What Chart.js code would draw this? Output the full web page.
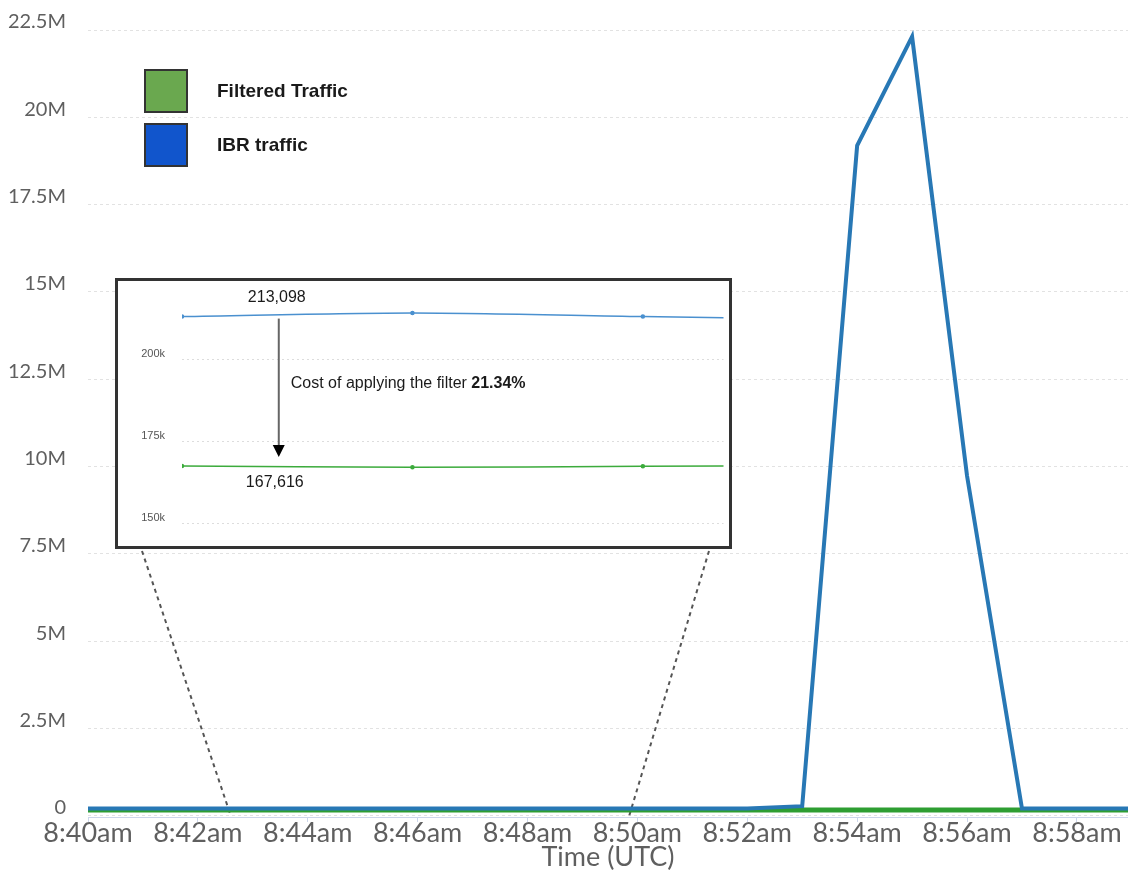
<!DOCTYPE html>
<html lang="en">
<head>
    <meta charset="UTF-8">
    <title>IBR traffic vs filtered traffic</title>
    <style>
        body {
            margin: 0;
            background-color: #ffffff;
        }

        #wrap {
            position: relative;
            width: 1128px;
            height: 873px;
        }

        #mainChart {
            position: absolute;
            left: 0;
            top: 0;
        }

        .legend {
            position: absolute;
            left: 144px;
            top: 69px;
            font-family: "Liberation Sans", Arial, sans-serif;
            font-weight: bold;
            font-size: 19px;
            color: #1a1a1a;
        }

        .legend-row {
            display: flex;
            align-items: center;
            height: 44px;
            margin-bottom: 10px;
        }

        .legend-box {
            width: 40px;
            height: 40px;
            border: 2px solid #333;
            margin-right: 29px;
        }

        #inset {
            position: absolute;
            left: 115px;
            top: 278px;
            width: 611px;
            height: 265px;
            border: 3px solid #333;
            background-color: #ffffff;
        }
    </style>
</head>
<body>
    <div id="wrap">
        <canvas id="mainChart" width="1128" height="873"></canvas>

        <div class="legend">
            <div class="legend-row"><div class="legend-box" style="background:#6aa84f"></div>Filtered Traffic</div>
            <div class="legend-row"><div class="legend-box" style="background:#1155cc"></div>IBR traffic</div>
        </div>

        <div id="inset"><canvas id="insetChart" width="611" height="265"></canvas></div>
    </div>

    <script src="https://cdn.jsdelivr.net/npm/chart.js"></script>
    <script>
        // main chart: one point per minute, 8:40am .. 8:59am
        const times = ['8:40am', '8:41am', '8:42am', '8:43am', '8:44am', '8:45am', '8:46am', '8:47am', '8:48am', '8:49am',
                       '8:50am', '8:51am', '8:52am', '8:53am', '8:54am', '8:55am', '8:56am', '8:57am', '8:58am', '8:59am'];
        const ibrTraffic = [213098, 213400, 213200, 213900, 214100, 213600, 214200, 213800, 213100, 213300,
                            213500, 213000, 213200, 280000, 19190000, 22310000, 9740000, 213000, 213200, 213100];
        const filteredTraffic = [167616, 167500, 167700, 167400, 167200, 167300, 167200, 167500, 167600, 167400,
                                 167500, 167700, 167600, 167600, 167500, 167700, 167600, 167500, 167600, 167700];
        const xTickMinutes = [0, 2, 4, 6, 8, 10, 12, 14, 16, 18];
        const yTickValues = [0, 2500000, 5000000, 7500000, 10000000, 12500000, 15000000, 17500000, 20000000, 22500000];

        // zoomed window shown in the inset (minutes after 8:40)
        const zoomFrom = 2.6;
        const zoomTo = 9.85;

        // inset chart
        const insetIbr = [213098, 214200, 213100, 212000];
        const insetFiltered = [167616, 167200, 167500, 167800];
        const insetTickValues = [150000, 175000, 200000];
        const costLabel = 'Cost of applying the filter ';
        const costValue = '21.34%';

        const fmtM = v => v === 0 ? '0' : (v / 1000000) + 'M';

        const connectors = {
            id: 'connectors',
            beforeDatasetsDraw(chart) {
                const box = document.getElementById('inset');
                const ctx = chart.ctx;
                const x = chart.scales.x;
                const y0 = chart.scales.y.getPixelForValue(0);
                const top = box.offsetTop + box.offsetHeight + 2;
                ctx.save();
                ctx.strokeStyle = '#555';
                ctx.lineWidth = 2;
                ctx.setLineDash([4, 4]);
                ctx.beginPath();
                ctx.moveTo(box.offsetLeft + 27, top);
                ctx.lineTo(x.getPixelForValue(zoomFrom), y0);
                ctx.moveTo(box.offsetLeft + box.offsetWidth - 23, top);
                ctx.lineTo(x.getPixelForValue(zoomTo), y0);
                ctx.stroke();
                ctx.restore();
            }
        };

        const mainChart = new Chart(document.getElementById('mainChart').getContext('2d'), {
            type: 'line',
            data: {
                datasets: [{
                    label: 'IBR traffic',
                    data: ibrTraffic.map((v, i) => ({ x: i, y: v })),
                    borderColor: '#2878b5',
                    borderWidth: 4,
                    pointRadius: 0,
                    fill: false
                }, {
                    label: 'Filtered Traffic',
                    data: filteredTraffic.map((v, i) => ({ x: i, y: v })),
                    borderColor: '#2e9e32',
                    borderWidth: 5,
                    pointRadius: 0,
                    fill: false
                }]
            },
            options: {
                responsive: false,
                animation: false,
                layout: { padding: { top: 30, right: 0, left: 0, bottom: 0 } },
                plugins: {
                    legend: { display: false },
                    tooltip: { enabled: false }
                },
                scales: {
                    x: {
                        type: 'linear',
                        min: 0,
                        max: 18.93,
                        afterBuildTicks: s => { s.ticks = xTickMinutes.map(v => ({ value: v })); },
                        ticks: {
                            maxRotation: 0,
                            padding: -5,
                            color: '#5f5f5f',
                            font: { family: 'Lato', size: 27 },
                            callback: v => times[v]
                        },
                        grid: {
                            drawOnChartArea: false,
                            tickLength: 5,
                            tickColor: '#ccd6eb'
                        },
                        border: { color: '#ccd6eb' },
                        title: {
                            display: true,
                            text: 'Time (UTC)',
                            color: '#5f5f5f',
                            padding: 0,
                            font: { family: 'Lato', size: 27 }
                        },
                        afterFit: s => { s.height = 56; }
                    },
                    y: {
                        min: -30000,
                        max: 22500000,
                        afterBuildTicks: s => { s.ticks = yTickValues.map(v => ({ value: v })); },
                        ticks: {
                            padding: 22,
                            labelOffset: -8,
                            color: '#5f5f5f',
                            font: { family: 'Lato', size: 20 },
                            callback: fmtM
                        },
                        grid: {
                            color: '#e2e2e2',
                            drawTicks: false
                        },
                        border: { display: false, dash: [3, 3] },
                        afterFit: s => { s.width = 88; s.paddingTop = 0; s.paddingBottom = 0; }
                    }
                }
            },
            plugins: [connectors]
        });

        const costNote = {
            id: 'costNote',
            afterDatasetsDraw(chart) {
                const ctx = chart.ctx;
                const ys = chart.scales.y;
                const x = chart.scales.x.getPixelForValue(0.42);
                const yHi = ys.getPixelForValue(insetIbr[0]);
                const yLo = ys.getPixelForValue(insetFiltered[0]);
                ctx.save();
                // arrow
                ctx.strokeStyle = '#666';
                ctx.lineWidth = 2;
                ctx.beginPath();
                ctx.moveTo(x, yHi + 2);
                ctx.lineTo(x, yLo - 20);
                ctx.stroke();
                ctx.fillStyle = '#000';
                ctx.beginPath();
                ctx.moveTo(x - 6, yLo - 21);
                ctx.lineTo(x + 6, yLo - 21);
                ctx.lineTo(x, yLo - 9);
                ctx.closePath();
                ctx.fill();
                // values
                ctx.fillStyle = '#1a1a1a';
                ctx.font = '16px "Liberation Sans", Arial, sans-serif';
                ctx.textAlign = 'center';
                ctx.textBaseline = 'middle';
                ctx.fillText(insetIbr[0].toLocaleString('en-US'), x - 2, yHi - 19);
                ctx.fillText(insetFiltered[0].toLocaleString('en-US'), x - 4, yLo + 17);
                // note
                ctx.textAlign = 'left';
                const ny = (yHi + yLo) / 2 - 8;
                ctx.fillText(costLabel, x + 12, ny);
                const w = ctx.measureText(costLabel).width;
                ctx.font = 'bold 16px "Liberation Sans", Arial, sans-serif';
                ctx.fillText(costValue, x + 12 + w, ny);
                ctx.restore();
            }
        };

        const insetChart = new Chart(document.getElementById('insetChart').getContext('2d'), {
            type: 'line',
            data: {
                datasets: [{
                    data: insetIbr.map((v, i) => ({ x: i, y: v })),
                    borderColor: '#4a90cf',
                    backgroundColor: '#4a90cf',
                    borderWidth: 1.5,
                    pointRadius: 1.5,
                    tension: 0.3,
                    fill: false
                }, {
                    data: insetFiltered.map((v, i) => ({ x: i, y: v })),
                    borderColor: '#3cab3c',
                    backgroundColor: '#3cab3c',
                    borderWidth: 1.5,
                    pointRadius: 1.5,
                    tension: 0.3,
                    fill: false
                }]
            },
            options: {
                responsive: false,
                animation: false,
                layout: { padding: 0 },
                plugins: {
                    legend: { display: false },
                    tooltip: { enabled: false }
                },
                scales: {
                    x: {
                        type: 'linear',
                        display: false,
                        min: 0,
                        max: 2.35
                    },
                    y: {
                        min: 144900,
                        max: 222260,
                        afterBuildTicks: s => { s.ticks = insetTickValues.map(v => ({ value: v })); },
                        ticks: {
                            padding: 17,
                            labelOffset: -6,
                            color: '#555',
                            font: { family: 'Liberation Sans', size: 11 },
                            callback: v => (v / 1000) + 'k'
                        },
                        grid: {
                            color: '#dddddd',
                            drawTicks: false
                        },
                        border: { display: false, dash: [2, 3] },
                        afterFit: s => { s.width = 64; s.paddingTop = 0; s.paddingBottom = 0; }
                    }
                }
            },
            plugins: [costNote]
        });
    </script>
</body>
</html>
